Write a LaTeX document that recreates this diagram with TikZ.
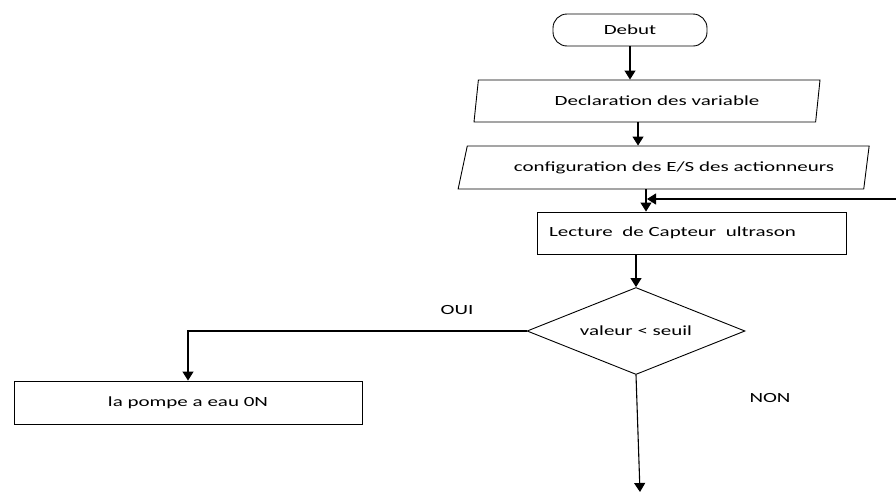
\documentclass[tikz,border=0pt]{standalone}
\usepackage{fontspec}
\setmainfont{Carlito}
\usepackage{graphicx}
\usetikzlibrary{shapes.geometric,arrows.meta}
% horizontally widened label text
\newcommand{\wtext}[1]{\scalebox{1.5}[1]{#1}}
\begin{document}
\begin{tikzpicture}[x=1pt,y=-1pt,
  box/.style={draw, line width=0.9pt, inner sep=0pt, font=\fontsize{14}{16}\selectfont},
  startbox/.style={box, rounded corners=14pt, minimum width=154pt, minimum height=32pt},
  iobox/.style={box, trapezium, trapezium stretches body},
  procbox/.style={box, rectangle},
  testbox/.style={box, diamond, aspect=2.5, minimum width=218pt, minimum height=87pt},
  lbl/.style={font=\fontsize{14}{16}\selectfont, inner sep=0pt},
  arr/.style={line width=1.1pt, -{Triangle[width=11pt,length=9pt]}}
]
\useasboundingbox (0,0) rectangle (896,493);

% nodes
\node[startbox] (debut) at (630,30) {\wtext{Debut}};
\node[iobox, trapezium left angle=66, trapezium right angle=114,
      minimum width=346pt, minimum height=42pt] (decl) at (647,101)
      {\hspace*{20pt}\wtext{Declaration des variable}};
\node[iobox, trapezium left angle=53, trapezium right angle=114,
      minimum width=411pt, minimum height=43pt] (conf) at (665.5,167.5)
      {\hspace*{17pt}\wtext{configuration des E/S des actionneurs}};
\node[procbox, minimum width=309pt, minimum height=42pt] (lect) at (691.5,233)
      {\wtext{Lecture~ de Capteur~ ultrason}\hspace*{38pt}};
\node[testbox] (test) at (636,331) {\wtext{valeur < seuil}};
\node[procbox, minimum width=348pt, minimum height=43pt] (pompe) at (188,402.5)
      {\wtext{la pompe a eau 0N}};

\node[lbl] (oui) at (457,310) {\wtext{OUI}};
\node[lbl] (non) at (770,398) {\wtext{NON}};

% free ends of connectors
\coordinate (retour) at (896,199);
\coordinate (fin) at (640,492);
\coordinate (jonction) at (646,199);

% connectors
\draw[arr] (debut.south) -- (debut.south |- decl.north);
\draw[arr] ([xshift=-9pt]decl.south) -- ([xshift=-9pt]decl.south |- conf.north);
\draw[arr] (jonction |- conf.south) -- (jonction |- lect.north);
\draw[arr] (retour) -- ([xshift=1pt]jonction);
\draw[arr] (test.north |- lect.south) -- (test.north);
\draw[arr] (test.west) -| (pompe.north);
\draw[arr] (test.south) -- (fin);
\end{tikzpicture}
\end{document}
